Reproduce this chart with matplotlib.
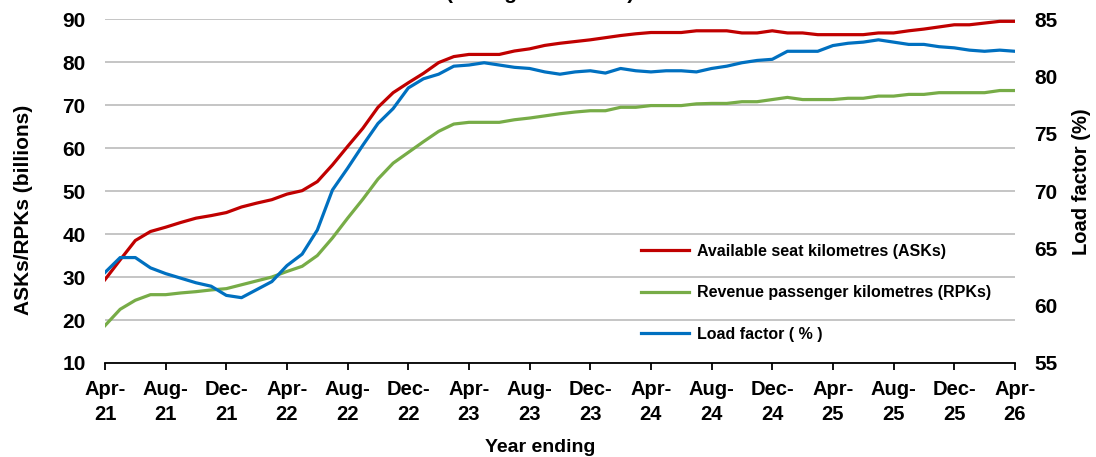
import matplotlib
matplotlib.use("Agg")
import matplotlib.pyplot as plt

plt.rcParams['font.family'] = ['Liberation Sans', 'DejaVu Sans']
plt.rcParams['font.weight'] = 'bold'

# monthly, Apr-21 .. Apr-26
months = ["Apr-21", "May-21", "Jun-21", "Jul-21", "Aug-21", "Sep-21", "Oct-21", "Nov-21",
          "Dec-21", "Jan-22", "Feb-22", "Mar-22", "Apr-22", "May-22", "Jun-22", "Jul-22",
          "Aug-22", "Sep-22", "Oct-22", "Nov-22", "Dec-22", "Jan-23", "Feb-23", "Mar-23",
          "Apr-23", "May-23", "Jun-23", "Jul-23", "Aug-23", "Sep-23", "Oct-23", "Nov-23",
          "Dec-23", "Jan-24", "Feb-24", "Mar-24", "Apr-24", "May-24", "Jun-24", "Jul-24",
          "Aug-24", "Sep-24", "Oct-24", "Nov-24", "Dec-24", "Jan-25", "Feb-25", "Mar-25",
          "Apr-25", "May-25", "Jun-25", "Jul-25", "Aug-25", "Sep-25", "Oct-25", "Nov-25",
          "Dec-25", "Jan-26", "Feb-26", "Mar-26", "Apr-26"]

asks = [29.4, 34.0, 38.5, 40.6, 41.6, 42.7, 43.7, 44.3, 45.0, 46.3,
        47.2, 48.0, 49.3, 50.1, 52.2, 56.1, 60.4, 64.6, 69.5, 72.9,
        75.2, 77.4, 79.9, 81.3, 81.8, 81.8, 81.8, 82.6, 83.1, 83.9,
        84.4, 84.8, 85.2, 85.7, 86.2, 86.6, 86.9, 86.9, 86.9, 87.3,
        87.3, 87.3, 86.8, 86.8, 87.3, 86.8, 86.8, 86.4, 86.4, 86.4,
        86.4, 86.8, 86.8, 87.3, 87.7, 88.2, 88.7, 88.7, 89.1, 89.5, 89.5]

rpks = [18.7, 22.5, 24.6, 25.9, 25.9, 26.3, 26.6, 27.0, 27.3, 28.2,
        29.1, 30.0, 31.3, 32.5, 35.0, 39.1, 43.7, 48.1, 52.8, 56.5,
        59.0, 61.5, 63.9, 65.6, 66.0, 66.0, 66.0, 66.6, 67.0, 67.5,
        68.0, 68.4, 68.7, 68.7, 69.5, 69.5, 69.9, 69.9, 69.9, 70.3,
        70.4, 70.4, 70.8, 70.8, 71.3, 71.8, 71.3, 71.3, 71.3, 71.6,
        71.6, 72.1, 72.1, 72.5, 72.5, 72.9, 72.9, 72.9, 72.9, 73.4, 73.4]

load_factor = [62.9, 64.2, 64.2, 63.3, 62.8, 62.4, 62.0, 61.7, 60.9, 60.7,
               61.4, 62.1, 63.5, 64.5, 66.6, 70.1, 72.0, 74.0, 75.9, 77.2,
               79.0, 79.8, 80.2, 80.9, 81.0, 81.2, 81.0, 80.8, 80.7, 80.4,
               80.2, 80.4, 80.5, 80.3, 80.7, 80.5, 80.4, 80.5, 80.5, 80.4,
               80.7, 80.9, 81.2, 81.4, 81.5, 82.2, 82.2, 82.2, 82.7, 82.9,
               83.0, 83.2, 83.0, 82.8, 82.8, 82.6, 82.5, 82.3, 82.2, 82.3, 82.2]

x = list(range(len(months)))
tick_pos = x[::4]
tick_lbl = [m.replace("-", "-\n") for m in months[::4]]

fig = plt.figure(figsize=(10.96, 4.57), dpi=100)
ax = fig.add_axes([0.0958, 0.2057, 0.8302, 0.7523])
ax2 = ax.twinx()

l1, = ax.plot(x, asks, color='#C00000', lw=2.3, label='Available seat kilometres (ASKs)')
l2, = ax.plot(x, rpks, color='#77AC47', lw=2.3, label='Revenue passenger kilometres (RPKs)')
l3, = ax2.plot(x, load_factor, color='#0070C0', lw=2.3, label='Load factor ( % )')

ax.set_xlim(0, len(months) - 1)
ax.set_ylim(10, 90)
ax.set_yticks(range(10, 91, 10))
ax2.set_ylim(55, 85)
ax2.set_yticks(range(55, 86, 5))

ax.grid(axis='y', color='#C0C0C0', lw=1.3)
ax.set_axisbelow(True)
for a in (ax, ax2):
    for s in ('left', 'right', 'top'):
        a.spines[s].set_visible(False)
ax.spines['bottom'].set_linewidth(1.3)
ax2.spines['bottom'].set_visible(False)

ax.set_xticks(tick_pos)
ax.set_xticklabels(tick_lbl, fontsize=14.5, fontweight='bold', linespacing=1.45)
ax.tick_params(axis='x', length=5, width=1.3, pad=7)
ax.tick_params(axis='y', length=0, pad=14, labelsize=15)
ax2.tick_params(axis='y', length=0, pad=14, labelsize=15)
for t in ax.get_yticklabels() + ax2.get_yticklabels():
    t.set_fontweight('bold')

ax.set_ylabel('ASKs/RPKs (billions)', fontsize=15, fontweight='bold')
ax.yaxis.set_label_coords(-0.079, 0.445)
ax2.set_ylabel('Load factor (%)', fontsize=14.5, fontweight='bold')
ax2.yaxis.set_label_coords(1.063, 0.526)
ax.set_xlabel('Year ending', fontsize=14, fontweight='bold')
ax.xaxis.set_label_coords(0.478, -0.222)

# title sits mostly above the canvas, as in the source image
fig.text(0.493, 1.003, '(rolling 12 months)', ha='center', va='baseline',
         fontsize=15, fontweight='bold')

ax2.legend(handles=[l1, l2, l3], loc='upper left', bbox_to_anchor=(0.578, 0.484),
           bbox_transform=fig.transFigure, frameon=False, fontsize=11.5,
           handlelength=3.0, handletextpad=0.45, labelspacing=1.65, borderpad=0)

fig.savefig('out.png', dpi=100)
